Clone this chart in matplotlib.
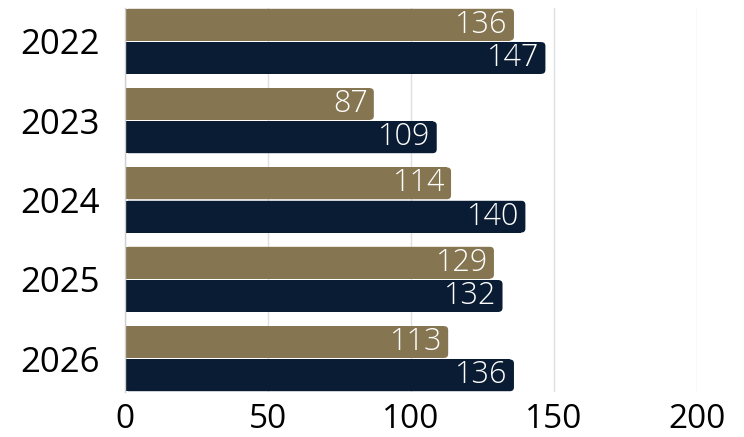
import matplotlib
matplotlib.use("Agg")
import matplotlib.pyplot as plt
from matplotlib.patches import FancyBboxPatch
import numpy as np

# Data
years = ["2022", "2023", "2024", "2025", "2026"]
series_gold = [136, 87, 114, 129, 113]
series_navy = [147, 109, 140, 132, 136]
x_ticks = [0, 50, 100, 150, 200]

GOLD = "#857550"
NAVY = "#0a1c33"

plt.rcParams["font.family"] = ["Open Sans", "DejaVu Sans"]

fig = plt.figure(figsize=(7.44, 4.37), dpi=100)
ax = fig.add_axes([125 / 744, 45 / 437, 572 / 744, 384 / 437])

bar_h = 0.42
y = np.arange(len(years))
ax.set_xlim(0, 200)
ax.set_ylim(len(years) - 1 + bar_h * 1.5, -bar_h / 2)

# pixel scale to keep corner rounding circular
x_per_px = 200 / 572
y_per_px = (len(years) - 1 + bar_h * 2) / 384
radius = 4 * x_per_px


def rounded_bar(yc, value, color):
    top = yc - bar_h / 2
    # square left part through barh, rounded right end as a patch
    ax.barh(yc, value - radius, height=bar_h - 0.02, color=color, zorder=2)
    patch = FancyBboxPatch(
        (0, top + 0.01), value, bar_h - 0.02,
        boxstyle=f"round,pad=0,rounding_size={radius}",
        mutation_aspect=y_per_px / x_per_px,
        facecolor=color, edgecolor="none", zorder=2,
    )
    ax.add_patch(patch)
    ax.text(value - 6 * x_per_px, yc, str(value), color="white",
            ha="right", va="center", fontsize=22, fontweight="light", zorder=3)


for i in range(len(years)):
    rounded_bar(y[i], series_gold[i], GOLD)
    rounded_bar(y[i] + bar_h, series_navy[i], NAVY)

ax.set_yticks(y + bar_h / 2)
ax.set_yticklabels(years, fontsize=25)
ax.set_xticks(x_ticks)
ax.set_xticklabels([str(t) for t in x_ticks], fontsize=24)
ax.tick_params(axis="both", length=0)
ax.tick_params(axis="y", pad=18)
ax.tick_params(axis="x", pad=8)

ax.grid(axis="x", color="#e0e0e0", linewidth=1, zorder=0)
ax.set_axisbelow(True)
for side in ["top", "right", "bottom"]:
    ax.spines[side].set_visible(False)
ax.spines["left"].set_color("#d0d0d0")
ax.spines["left"].set_linewidth(1)

fig.savefig("out.png", dpi=100)
